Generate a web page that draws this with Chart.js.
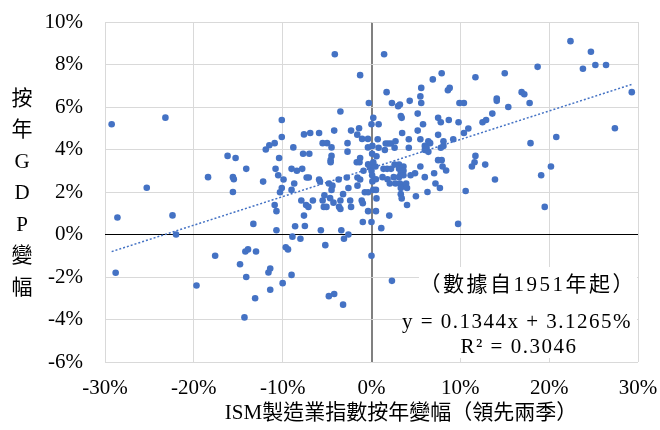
<!DOCTYPE html>
<html>
<head>
<meta charset="utf-8">
<script src="https://cdn.jsdelivr.net/npm/chart.js@4.4.1/dist/chart.umd.min.js"></script>
<style>
  body { margin: 0; background: #fff; }
  #wrap { width: 660px; height: 430px; position: relative; }
</style>
</head>
<body>
<div id="wrap"><canvas id="myChart"></canvas></div>
<script>
// ISM製造業指數按年變幅(領先兩季), %
var ismYoy = [
  -29.25, -23.2, -16.2, -15.3, -18.4, -15.6, -15.5, -25.3, -15.6, -28.6, -22.4, -22.0, -28.8, -17.6, -14.8, -19.7,
  -4.13, -1.28, -0.3, -3.5, -10.1, 0.2, 0.0, -7.6, -6.9, -5.9, -4.2, -2.3, -1.4, -1.6, -1.06, -0.4,
  -10.1, -10.9, -11.5, -11.9, -5.5, -5.0, -4.5, -2.7, -2.7, -0.4, -8.8, -7.7, -7.0, -4.5, -4.6, -4.6,
  -10.4, -1.66, -1.28, -1.35, -0.38, -0.19, 0.07, -14.1, -10.8, -10.5, -9.9, -9.0, -8.4, -7.8, -7.3, -7.06,
  -5.9, -5.8, -3.7, -2.78, -1.58, -1.28, -0.9, 0.0, 0.07, -12.2, -8.7, -4.8, -4.4, -4.5, -1.58, -2.6,
  -0.75, -0.38, -10.1, -10.3, -9.0, -5.3, -3.2,
  -10.9, -10.7, -7.9, -7.36, -7.1, -6.6, -5.5, -4.66, -4.28, -5.37, -5.07, -3.5, -3.65, -3.5, -2.4, -2.3,
  -1.1, -0.98, -0.38, 0.5, -0.98, 0.0, -7.6, -13.3, -8.6, -7.5, -10.7, -5.7, -3.4, -2.6, -8.9, -8.0,
  -3.1, -5.2, -14.2, -13.9, -13.0, -9.65, -9.4, 0.0, -14.1, -11.6, -11.4, -9.0, -10.0, -11.4, -13.1, -4.8,
  -4.2, -3.2, -14.3,
  0.56, 3.3, 3.4, 4.0, 5.0, 6.3, 10.6, 2.0, 1.1, 9.75, 2.3,
  1.42, 1.7, 2.3, 3.0, 3.2, 4.3, 5.6, 5.5, 5.6, 6.9, 7.9, 8.6, 8.8, 9.9, 10.4, 11.7,
  15.0, 14.1, 14.1, 15.4, 0.8, 3.3, 3.4, 5.2, 7.5, 7.8, 8.7, 9.8, 5.8, 10.4, 10.9, 12.5,
  12.9, 13.6, 3.45, 5.2, 7.5, 0.7, 4.2, 5.5, 6.4, 6.6, 8.1, 9.2, 0.1, 0.8, 1.6, 1.9,
  2.2, 2.7, 1.5, 2.6, 4.2, 6.0, 6.0, 6.2, 6.4, 7.8, 8.1, 0.56, 7.5, 7.9, 11.7, 11.6,
  11.3, 12.8, 8.0, 8.4, 0.2, 0.45, 1.35, 1.76, 2.2, 2.6, 3.1, 3.1, 3.6, 3.6, 3.3, 5.5,
  4.4, 4.9, 7.05, 1.24, 1.8, 2.5, 3.1, 3.6, 6.0, 13.9, 0.1, 0.5, 2.06, 2.7, 3.2, 3.6,
  3.9, 3.3, 4.0, 7.2, 7.7, 0.2, 0.5,
  18.7, 22.4, 24.7, 23.8, 25.2, 26.4, 29.3, 16.9, 17.2, 17.8, 27.4, 17.9, 20.8, 20.2, 19.1, 19.5
];
// 按年GDP變幅, %
var gdpYoy = [
  5.19, 5.5, 3.7, 3.6, 2.7, 2.7, 2.6, 2.2, 2.0, 0.8, 0.9, 0.0, -1.8, -1.0, -1.4, -2.4,
  8.48, 7.5, 6.19, 5.79, 5.39, 5.49, 5.19, 4.71, 4.78, 4.78, 4.89, 4.89, 5.0, 4.7, 4.5, 4.5,
  4.59, 4.3, 4.2, 4.0, 4.3, 4.3, 4.1, 4.3, 3.9, 4.1, 4.1, 3.8, 3.8, 3.7, 3.5, 3.4,
  3.6, 3.4, 3.6, 3.4, 3.3, 3.2, 3.8, 3.09, 3.09, 2.79, 2.59, 3.09, 3.0, 3.09, 2.68, 2.68,
  2.59, 2.49, 2.59, 2.68, 2.68, 2.59, 3.0, 3.0, 2.79, 2.49, 2.4, 2.4, 2.3, 2.1, 2.3, 2.19,
  1.99, 1.99, 2.19, 1.99, 2.1, 1.85, 1.9,
  1.39, 1.1, 1.6, 1.39, 1.3, 1.6, 1.6, 1.71, 1.5, 1.3, 1.3, 1.6, 1.3, 1.2, 1.6, 1.3,
  1.6, 1.47, 1.1, 1.1, 0.59, 0.59, 0.89, 0.5, 0.39, 0.4, 0.2, 0.2, 0.2, 0.0, -0.1, -0.2,
  -0.2, -0.5, -0.8, -0.7, -0.8, -0.6, -0.7, -1.0, -2.0, -1.79, -1.6, -1.9, -2.29, -2.6, -3.0, -2.9,
  -2.8, -3.3, -3.9,
  1.7, 1.9, 1.7, 1.39, 1.8, 2.0, 2.05, 0.89, 0.3, 0.5, -2.18,
  8.48, 6.7, 6.19, 6.04, 6.12, 6.29, 6.9, 6.5, 6.19, 7.3, 7.59, 6.79, 6.9, 6.19, 6.19, 7.4,
  7.59, 6.4, 6.29, 6.0, 5.19, 5.58, 5.49, 5.69, 5.49, 5.28, 5.39, 5.28, 5.19, 4.78, 4.99, 5.28,
  5.39, 5.69, 4.78, 4.89, 4.69, 4.48, 4.48, 4.48, 4.39, 4.3, 4.39, 4.48, 4.17, 4.08, 4.28, 4.28,
  4.28, 4.39, 3.98, 4.08, 4.08, 4.17, 3.98, 4.08, 3.89, 4.08, 4.17, 3.68, 3.5, 3.5, 3.7, 3.4,
  3.2, 3.29, 3.2, 3.01, 3.4, 3.2, 3.09, 3.09, 3.09, 3.29, 3.29, 3.09, 3.2, 3.0, 2.88, 3.2,
  2.79, 2.88, 2.88, 2.7, 2.6, 2.7, 2.7, 2.79, 2.7, 2.59, 2.5, 2.6, 2.4, 2.4, 2.4, 2.3,
  2.4, 2.19, 2.19, 2.4, 2.19, 2.1, 2.1,
  7.89, 9.1, 8.6, 7.8, 7.98, 7.98, 6.7, 6.7, 6.6, 6.19, 5.0, 4.3, 4.59, 3.2, 2.79, 1.3
];
var xTicks = [-30, -20, -10, 0, 10, 20, 30];
var yTicks = [-6, -4, -2, 0, 2, 4, 6, 8, 10];
var slope = 0.1344;
var intercept = 3.1265;
var rSquared = 0.3046;

var blue = '#4472c4';
var serif = '"Liberation Serif", "Times New Roman", "Noto Sans CJK TC", serif';

var points = [];
for (var i = 0; i < ismYoy.length; i++) {
  points.push({ x: ismYoy[i], y: gdpYoy[i] });
}
// 趨勢線: 由最小到最大的x
var xMin = Math.min.apply(null, ismYoy);
var xMax = Math.max.apply(null, ismYoy);
var trend = [
  { x: xMin, y: slope * xMin + intercept },
  { x: xMax, y: slope * xMax + intercept }
];

var textPlugin = {
  id: 'texts',
  beforeDatasetsDraw: function (chart) {
    var ctx = chart.ctx;
    ctx.save();
    ctx.fillStyle = '#fff';
    ctx.fillRect(419, 267, 218, 36);
    ctx.fillRect(404, 303, 233, 55);
    ctx.restore();
  },
  afterDraw: function (chart) {
    var ctx = chart.ctx;
    ctx.save();
    ctx.fillStyle = '#000';
    ctx.textBaseline = 'middle';
    ctx.font = '21px ' + serif;
    // 縱軸標題 (直排)
    ctx.textAlign = 'center';
    var yTitle = ['按', '年', 'G', 'D', 'P', '變', '幅'];
    for (var k = 0; k < yTitle.length; k++) {
      ctx.fillText(yTitle[k], 22, 99 + k * 31.5);
    }
    // 橫軸標題
    ctx.fillText('ISM製造業指數按年變幅（領先兩季）', 401, 413);
    // 註解
    ctx.letterSpacing = '2.5px';
    ctx.textAlign = 'right';
    ctx.fillText('（數據自1951年起）', 636, 285);
    ctx.letterSpacing = '1.5px';
    ctx.textAlign = 'center';
    ctx.fillText('y = ' + slope + 'x + ' + intercept + '%', 517, 322);
    ctx.fillText('R² = ' + rSquared, 519, 347);
    ctx.restore();
  }
};

var config = {
  type: 'scatter',
  data: {
    datasets: [{
      data: points,
      backgroundColor: blue,
      borderWidth: 0,
      pointRadius: 3.3,
      order: 2
    }, {
      type: 'line',
      data: trend,
      borderColor: blue,
      borderWidth: 1.5,
      borderDash: [2, 2],
      pointRadius: 0,
      fill: false,
      order: 1
    }]
  },
  options: {
    responsive: true,
    maintainAspectRatio: false,
    animation: false,
    layout: { padding: { top: 22, right: 22, left: 0, bottom: 0 } },
    plugins: {
      legend: { display: false },
      tooltip: { enabled: false }
    },
    scales: {
      x: {
        type: 'linear',
        min: -30,
        max: 30,
        afterFit: function (scale) {
          scale.height = 68;
          scale.paddingLeft = 0;
          scale.paddingRight = 0;
        },
        afterBuildTicks: function (scale) {
          scale.ticks = xTicks.map(function (v) { return { value: v }; });
        },
        border: { display: false },
        grid: {
          drawTicks: false,
          color: function (c) { return c.tick && c.tick.value === 0 ? '#808080' : '#d9d9d9'; },
          lineWidth: function (c) { return c.tick && c.tick.value === 0 ? 2 : 1; }
        },
        ticks: {
          padding: 14,
          color: '#000',
          font: { family: serif, size: 21 },
          maxRotation: 0,
          callback: function (v) { return v + '%'; }
        }
      },
      y: {
        min: -6,
        max: 10,
        afterFit: function (scale) {
          scale.width = 105;
          scale.paddingTop = 0;
          scale.paddingBottom = 0;
        },
        afterBuildTicks: function (scale) {
          scale.ticks = yTicks.map(function (v) { return { value: v }; });
        },
        border: { display: false },
        grid: {
          drawTicks: false,
          color: function (c) { return c.tick && c.tick.value === 0 ? '#000' : '#d9d9d9'; },
          lineWidth: 1
        },
        ticks: {
          padding: 22,
          color: '#000',
          font: { family: serif, size: 21 },
          callback: function (v) { return v + '%'; }
        }
      }
    }
  },
  plugins: [textPlugin]
};

window.addEventListener('load', function () {
  var ctx = document.getElementById('myChart').getContext('2d');
  new Chart(ctx, config);
});
</script>
</body>
</html>
